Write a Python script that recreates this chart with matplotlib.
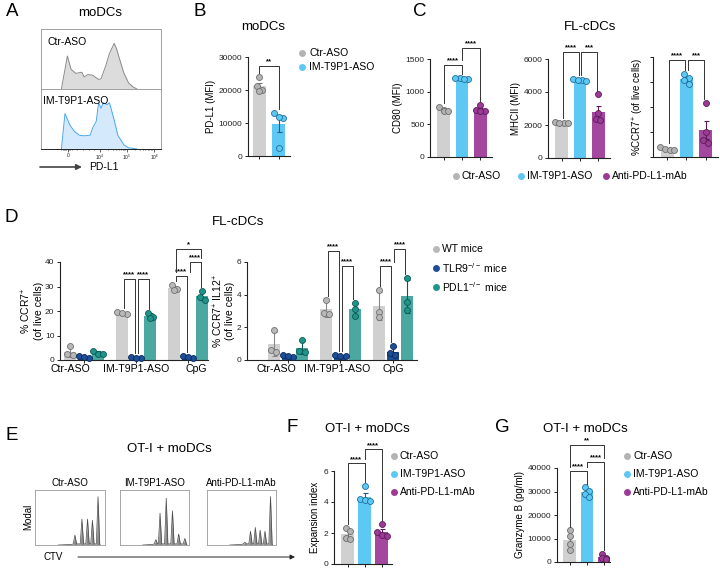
import numpy as np
import matplotlib
matplotlib.use("Agg")
import matplotlib.pyplot as plt

plt.rcParams['font.family'] = ['Liberation Sans', 'DejaVu Sans']
plt.rcParams['mathtext.fontset'] = 'custom'
plt.rcParams['mathtext.rm'] = 'Liberation Sans'
plt.rcParams['mathtext.default'] = 'regular'

# ---------------- data ----------------
# A: PD-L1 histograms (x in axis units 0-100, y = counts)
a_ctr_x = [17, 22, 25, 29, 34, 36, 39, 43, 48, 50, 54, 57, 61, 63, 65, 69, 73, 77, 80]
a_ctr_y = [0, 55, 33, 26, 28, 20, 24, 23, 16, 17, 39, 59, 76, 67, 53, 27, 10, 3, 0]
a_im_x = [17, 20, 24, 28, 32, 36, 41, 43, 46, 48, 50, 52, 55, 57, 59, 62, 64, 69, 73, 77, 80]
a_im_y = [0, 59, 40, 29, 23, 22, 23, 35, 46, 77, 68, 77, 74, 77, 63, 40, 23, 7, 2, 1, 0]
a_tick_labels = ['0', '$10^4$', '$10^5$', '$10^6$']

# B: PD-L1 MFI
b_ctr = [24000, 21200, 20100, 19600]
b_im = [12900, 11600, 11700, 2300]

# C: FL-cDCs (Ctr-ASO, IM-T9P1-ASO, Anti-PD-L1-mAb)
c1_ctr = [770, 720, 700, 710]
c1_im = [1190, 1205, 1210, 1195]
c1_anti = [790, 720, 700, 705]
c2_ctr = [2180, 2130, 2150, 2100]
c2_im = [4800, 4720, 4750, 4680]
c2_anti = [3850, 2700, 2350, 2300]
c3_ctr = [8.0, 6.5, 5.5, 5.3]
c3_im = [66.5, 63.5, 61.5, 58.5]
c3_anti = [43, 20, 13.5, 11]

# D: groups x mouse strain
d_groups = ['Ctr-ASO', 'IM-T9P1-ASO', 'CpG']
d1_wt = [[5.8, 2.3, 2.2], [19.6, 18.8, 19.0], [30.5, 28.9, 28.6]]
d1_tlr9 = [[1.5, 1.0, 1.2], [1.2, 0.9, 1.0], [1.6, 1.0, 1.2]]
d1_pdl1 = [[3.6, 2.5, 2.4], [19.3, 17.7, 17.0], [28.3, 25.9, 24.5]]
d2_wt = [[1.84, 0.62, 0.5], [3.67, 2.9, 2.8], [4.3, 2.96, 2.65]]
d2_tlr9 = [[0.32, 0.2, 0.25], [0.3, 0.22, 0.25], [0.86, 0.4, 0.3]]
d2_pdl1 = [[1.2, 0.55, 0.5], [3.5, 3.1, 2.7], [5.04, 3.57, 3.06]]

# E: CTV dilution peaks (position in box, relative height)
e_titles = ['Ctr-ASO', 'IM-T9P1-ASO', 'Anti-PD-L1-mAb']
e_pos = [[0.57, 0.67, 0.75, 0.82, 0.90],
         [0.52, 0.58, 0.67, 0.76, 0.85, 0.94],
         [0.55, 0.63, 0.70, 0.77, 0.84, 0.92]]
e_h = [[0.18, 0.47, 0.47, 0.45, 0.88],
       [0.10, 0.58, 0.85, 0.62, 0.20, 0.12],
       [0.05, 0.25, 0.32, 0.27, 0.25, 0.88]]

# F / G
f_ctr = [2.35, 2.1, 1.7, 1.6]
f_im = [5.05, 4.2, 4.1, 4.05]
f_anti = [2.6, 2.05, 1.9, 1.8]
g_ctr = [13500, 11000, 7500, 5000]
g_im = [31800, 30200, 28800, 27500]
g_anti = [3400, 1800, 1500, 1400]

treat_labels = ['Ctr-ASO', 'IM-T9P1-ASO', 'Anti-PD-L1-mAb']
mouse_labels = ['WT mice', 'TLR9$^{-/-}$ mice', 'PDL1$^{-/-}$ mice']

# colours
BAR = ['#d0d0d0', '#5dc8f4', '#a4489f']
FACE = ['#b3b3b3', '#5dc8f4', '#9b3b96']
EDGE = ['#6e6e6e', '#1f6f9c', '#5d1a59']
ERR = ['#777777', '#1f5f8a', '#5d1a59']
D_BAR = ['#d0d0d0', '#1d4e96', '#4aa8a0']
D_FACE = ['#b8b8b8', '#1d4e96', '#1f948a']
D_EDGE = ['#707070', '#0d2a5a', '#0b5a54']
D_ERR = ['#888888', '#0d2a5a', '#0b5a54']

W, H = 720, 579
fig = plt.figure(figsize=(7.2, 5.79), dpi=100)


def add_ax(l, t, r, b):
    return fig.add_axes([l / W, 1 - b / H, (r - l) / W, (b - t) / H])


def ftext(x, y, s, **kw):
    fig.text(x / W, 1 - y / H, s, **kw)


def style_ax(ax):
    for s in ['top', 'right']:
        ax.spines[s].set_visible(False)
    for s in ['left', 'bottom']:
        ax.spines[s].set_linewidth(0.8)
        ax.spines[s].set_color('#222222')
    ax.tick_params(length=2.5, width=0.7, labelsize=6, pad=1.5, colors='#222222')
    ax.patch.set_visible(False)


def swarm(vals, thr, spacing):
    order = np.argsort(-vals)
    offs = np.zeros(len(vals))
    clusters = []
    for i in order:
        if clusters and abs(vals[clusters[-1][0]] - vals[i]) < thr:
            clusters[-1].append(i)
        else:
            clusters.append([i])
    for c in clusters:
        for j, i in enumerate(c):
            offs[i] = (j - (len(c) - 1) / 2) * spacing
    return offs


def draw_bars(ax, groups, xs, width, bar_c, face_c, edge_c, err_c, spacing, ytop, err='sem'):
    tops = []
    for vals, x, bc, fc, ec, erc in zip(groups, xs, bar_c, face_c, edge_c, err_c):
        vals = np.array(vals, dtype=float)
        m = vals.mean()
        e = vals.std(ddof=1)
        if err == 'sem':
            e = e / np.sqrt(len(vals))
        ax.bar(x, m, width, color=bc, zorder=1, linewidth=0)
        ax.errorbar(x, m, yerr=e, color=erc, capsize=1.8, elinewidth=0.8,
                    capthick=0.8, zorder=2)
        offs = swarm(vals, ytop * 0.045, spacing)
        ax.plot(x + offs, vals, 'o', ms=4.3, mfc=fc, mec=ec, mew=0.6,
                zorder=3, clip_on=False)
        tops.append(max(vals.max(), m + e))
    return tops


def bracket(ax, x1, x2, y, l1, l2, txt, ytop):
    ax.plot([x1, x1, x2, x2], [l1, y, y, l2], color='#333333', lw=0.7,
            clip_on=False, zorder=4)
    ax.text((x1 + x2) / 2, y + ytop * 0.005, txt, ha='center', va='bottom',
            fontsize=5.5, fontweight='bold', clip_on=False)


def add_brackets(ax, xs, tops, sig, ytop, nudge):
    for item in sig:
        i, j, y, txt = item[:4]
        l1 = item[4] if len(item) > 4 and item[4] is not None else tops[i] + ytop * 0.04
        l2 = item[5] if len(item) > 5 and item[5] is not None else tops[j] + ytop * 0.04
        bracket(ax, xs[i] + nudge, xs[j] - nudge, y, l1, l2, txt, ytop)


# ---------------- panel A ----------------
axa1 = add_ax(41, 29, 161, 89)
axa2 = add_ax(41, 89, 161, 149)
axa1.fill_between(a_ctr_x, a_ctr_y, color='#dcdcdc', lw=0)
axa1.plot(a_ctr_x, a_ctr_y, color='#8a8a8a', lw=0.7)
axa2.fill_between(a_im_x, a_im_y, color='#d4e9fb', lw=0)
axa2.plot(a_im_x, a_im_y, color='#4aa6f0', lw=0.7)
for ax in (axa1, axa2):
    ax.set_xlim(0, 100)
    ax.set_ylim(0, 100)
    ax.set_yticks([])
    for s in ax.spines.values():
        s.set_color('#a0a0a0')
        s.set_linewidth(0.7)
axa1.set_xticks([])
axa1.text(5, 78, 'Ctr-ASO', fontsize=7.5, va='center')
axa2.text(2, 80, 'IM-T9P1-ASO', fontsize=7.5, va='center')
axa2.spines['bottom'].set_color('#222222')
major = [22.4, 49, 71.4, 94.4]
axa2.set_xticks(major)
axa2.set_xticklabels(a_tick_labels, fontsize=3.5)
minor = [17, 18, 19, 20, 21, 23, 24, 26, 30, 35, 40, 44]
dec = major[2] - major[1]
for k0 in major[1:]:
    minor += [k0 + dec * np.log10(k) for k in range(2, 10) if k0 + dec * np.log10(k) < 100]
axa2.set_xticks(minor, minor=True)
axa2.tick_params(axis='x', length=1.8, width=0.5, pad=1, colors='#222222')
axa2.tick_params(axis='x', which='minor', length=1.0, width=0.4)

# ---------------- panel B ----------------
axb = add_ax(248, 57, 290, 156)
style_ax(axb)
xb = [0, 1]
tb = draw_bars(axb, [b_ctr, b_im], xb, 0.68, BAR, FACE, EDGE, ERR, 0.25, 30000)
axb.set_xlim(-0.6, 1.6)
axb.set_ylim(0, 30000)
axb.set_yticks([0, 10000, 20000, 30000])
axb.set_xticks(xb)
axb.set_xticklabels([])
axb.set_ylabel('PD-L1 (MFI)', fontsize=7, labelpad=2)
add_brackets(axb, xb, tb, [(0, 1, 27400, '**')], 30000, 0)

# ---------------- panel C ----------------
xc = [0, 1, 2]
c_specs = [
    ((430, 59, 492, 157), [c1_ctr, c1_im, c1_anti], 1500, [0, 500, 1000, 1500], True,
     'CD80 (MFI)', [(0, 1, 1410, '****'), (1, 2, 1670, '****', 1480, None)], 0.0),
    ((548, 59, 610, 158), [c2_ctr, c2_im, c2_anti], 6000, [0, 2000, 4000, 6000], True,
     'MHCII (MFI)', [(0, 1, 6440, '****'), (1, 2, 6440, '***')], 0.07),
    ((653, 57, 718, 157), [c3_ctr, c3_im, c3_anti], 80, [0, 20, 40, 60, 80], False,
     '%CCR7$^{+}$ (of live cells)', [(0, 1, 78, '****'), (1, 2, 78, '***')], 0.07),
]
for box, groups, ytop, yt, lab, ylab, sig, nudge in c_specs:
    ax = add_ax(*box)
    style_ax(ax)
    tops = draw_bars(ax, groups, xc, 0.7, BAR, FACE, EDGE, ERR, 0.24, ytop)
    ax.set_xlim(-0.75, 2.65)
    ax.set_ylim(0, ytop)
    ax.set_yticks(yt)
    if not lab:
        ax.set_yticklabels([])
    ax.set_xticks(xc)
    ax.set_xticklabels([])
    ax.set_ylabel(ylab, fontsize=7, labelpad=2 if lab else 1)
    add_brackets(ax, xc, tops, sig, ytop, nudge)

# ---------------- panel D ----------------
xd = np.arange(len(d_groups))
d_off = [-0.27, 0, 0.27]
d_specs = [
    ((60, 262, 208, 360), [d1_wt, d1_tlr9, d1_pdl1], 40, [0, 10, 20, 30, 40],
     '% CCR7$^{+}$\n(of live cells)', (-0.46, 2.38), [-0.27, 0.0, 0.15],
     [(1, 0, 1, 33, '****'), (1, 1, 2, 33, '****'),
      (2, 0, 1, 34.3, '****'), (2, 1, 2, 40, '****', 35.8, None),
      (2, 0, 2, 45.3, '*', 36, 41.5)]),
    ((247, 262, 417, 360), [d2_wt, d2_tlr9, d2_pdl1], 6, [0, 2, 4, 6],
     '% CCR7$^{+}$ IL12$^{+}$\n(of live cells)', (-0.78, 2.46), [-0.22, -0.06, 0.0],
     [(1, 0, 1, 6.7, '****'), (1, 1, 2, 5.75, '****'),
      (2, 0, 1, 5.75, '****'), (2, 1, 2, 6.8, '****', 6.0, None)]),
]
for box, strains, ytop, yt, ylab, xl, lab_shift, sig in d_specs:
    ax = add_ax(*box)
    style_ax(ax)
    all_tops = []
    for g in range(len(d_groups)):
        xs = [xd[g] + o for o in d_off]
        tops = draw_bars(ax, [s[g] for s in strains], xs, 0.23, D_BAR, D_FACE,
                         D_EDGE, D_ERR, 0.1, ytop, err='sd')
        all_tops.append((xs, tops))
    for item in sig:
        g = item[0]
        xs, tops = all_tops[g]
        add_brackets(ax, xs, tops, [item[1:]], ytop, 0.03)
    ax.set_xlim(*xl)
    ax.set_ylim(0, ytop)
    ax.set_yticks(yt)
    ax.set_xticks(xd)
    ax.set_xticklabels([])
    for g, name in enumerate(d_groups):
        ax.text(xd[g] + lab_shift[g], -ytop * 0.04, name, fontsize=7.6,
                ha='center', va='top')
    ax.set_ylabel(ylab, fontsize=7.5, labelpad=1, linespacing=1.1)

# ---------------- panel E ----------------
e_boxes = [(35, 490, 105, 545), (120, 490, 189, 545), (207, 490, 276, 545)]
for box, title, pos, hs in zip(e_boxes, e_titles, e_pos, e_h):
    ax = add_ax(*box)
    px = [0.33, pos[0] - 0.05]
    py = [0.0, 0.01]
    for p, h in zip(pos, hs):
        px += [p - 0.024, p, p + 0.024]
        py += [0.02, h, 0.02]
    px += [pos[-1] + 0.03]
    py += [0.0]
    ax.fill_between(px, py, color='#8c8c8c', lw=0)
    ax.plot(px, py, color='#4a4a4a', lw=0.5)
    ax.set_xlim(0, 1)
    ax.set_ylim(0, 1)
    ax.set_xticks([])
    ax.set_yticks([])
    for s in ax.spines.values():
        s.set_color('#9a9a9a')
        s.set_linewidth(0.6)
    ftext((box[0] + box[2]) / 2, 483, title, fontsize=7, ha='center', va='center')

# ---------------- panel F ----------------
axf = add_ax(334, 471, 392, 564)
style_ax(axf)
tf = draw_bars(axf, [f_ctr, f_im, f_anti], xc, 0.76, BAR, FACE, EDGE, ERR, 0.28, 6)
axf.set_xlim(-0.82, 2.6)
axf.set_ylim(0, 6)
axf.set_yticks([0, 2, 4, 6])
axf.set_xticks(xc)
axf.set_xticklabels([])
axf.set_ylabel('Expansion index', fontsize=7, labelpad=3)
add_brackets(axf, xc, tf, [(0, 1, 6.5, '****'), (1, 2, 7.4, '****', 6.75, None)], 6, 0)

# ---------------- panel G ----------------
axg = add_ax(557, 468, 610, 562)
style_ax(axg)
tg = draw_bars(axg, [g_ctr, g_im, g_anti], xc, 0.76, BAR, FACE, EDGE, ERR, 0.28, 40000)
axg.set_xlim(-0.76, 2.35)
axg.set_ylim(0, 40000)
axg.set_yticks([0, 10000, 20000, 30000, 40000])
axg.set_xticks(xc)
axg.set_xticklabels([])
axg.set_ylabel('Granzyme B (pg/ml)', fontsize=7, labelpad=2)
add_brackets(axg, xc, tg, [(0, 1, 38700, '****'), (1, 2, 42700, '****', 40300, None),
                           (0, 2, 50000, '**', 40300, 44300)], 40000, 0)

# ---------------- overlay: letters, titles, legends, arrows ----------------
ov = fig.add_axes([0, 0, 1, 1])
ov.set_xlim(0, W)
ov.set_ylim(H, 0)
ov.axis('off')

for letter, x, y in [('A', 12, 12), ('B', 200, 11), ('C', 420, 12), ('D', 11, 217),
                     ('E', 12, 435), ('F', 292, 428), ('G', 502, 428)]:
    ov.text(x, y, letter, fontsize=13.5, ha='center', va='center')

for title, x, y in [('moDCs', 100, 13), ('moDCs', 263, 27), ('FL-cDCs', 590, 27),
                    ('FL-cDCs', 238, 222), ('OT-I + moDCs', 169, 449),
                    ('OT-I + moDCs', 367, 429), ('OT-I + moDCs', 585, 429)]:
    ov.text(x, y, title, fontsize=9.5, ha='center', va='center')

# legends
for i, lab in enumerate(treat_labels[:2]):
    ov.plot(302, 53 + 14 * i, 'o', ms=5, color=FACE[i], mec='none')
    ov.text(309, 53 + 14 * i, lab, fontsize=7.5, va='center')
for i, (lab, x) in enumerate(zip(treat_labels, [456, 521, 606])):
    ov.plot(x, 176, 'o', ms=5, color=FACE[i], mec='none')
    ov.text(x + 6, 176, lab, fontsize=7.5, va='center')
for i, lab in enumerate(mouse_labels):
    ov.plot(436, 249 + 19 * i, 'o', ms=5, color=D_FACE[i], mec='none')
    ov.text(442, 249 + 19 * i, lab, fontsize=7.5, va='center')
for x0 in (394, 627):
    for i, lab in enumerate(treat_labels):
        ov.plot(x0, 456 + 18 * i, 'o', ms=5, color=FACE[i], mec='none')
        ov.text(x0 + 6, 456 + 18 * i, lab, fontsize=7.5, va='center')

# arrows and axis words
ov.annotate('', xy=(82, 167), xytext=(40, 167),
            arrowprops=dict(arrowstyle='-|>', color='#444444', lw=1.2,
                            mutation_scale=8, shrinkA=0, shrinkB=0))
ov.text(89, 167, 'PD-L1', fontsize=7.5, va='center')
ov.annotate('', xy=(295, 557), xytext=(78, 557),
            arrowprops=dict(arrowstyle='-|>', color='#222222', lw=0.7,
                            mutation_scale=7, shrinkA=0, shrinkB=0))
ov.text(43, 557, 'CTV', fontsize=7, va='center')
ov.text(28, 517, 'Modal', fontsize=7, va='center', ha='center', rotation=90)

fig.savefig('out.png', dpi=100)
